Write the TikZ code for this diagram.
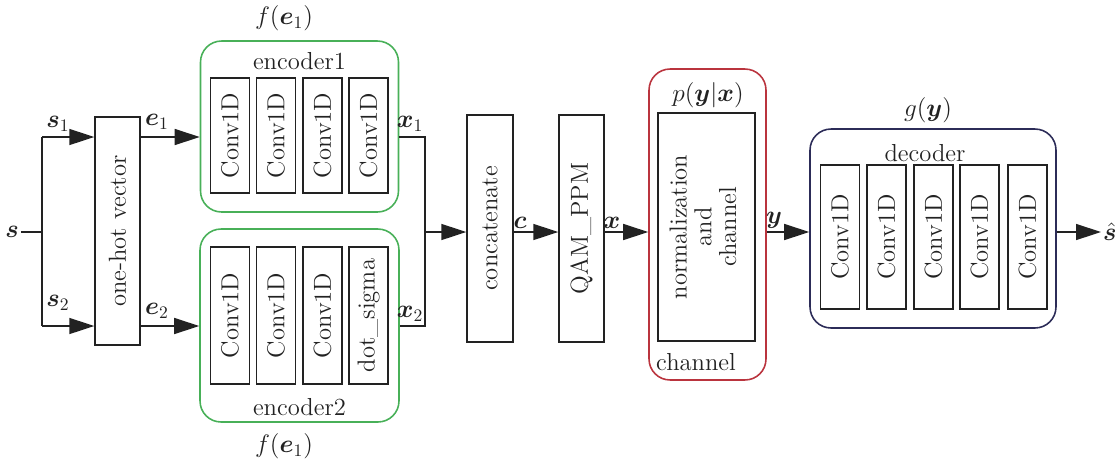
\documentclass[tikz,border=0pt]{standalone}
\usepackage{bm}
\usetikzlibrary{arrows.meta}
\definecolor{encgreen}{RGB}{72,176,88}
\definecolor{chred}{RGB}{186,52,62}
\definecolor{decnavy}{RGB}{44,44,88}
\definecolor{ink}{RGB}{34,34,34}
\tikzset{
  box/.style={draw=ink, line width=0.8pt, inner sep=0pt, text=ink, font=\fontsize{14}{16}\selectfont},
  layer/.style={box, minimum width=0.78cm},
  group/.style={draw, line width=0.9pt, rounded corners=0.42cm, inner sep=0pt},
  lbl/.style={inner sep=1pt, text=ink, font=\fontsize{14}{16}\selectfont},
  arr/.style={line width=0.8pt, -{Triangle[length=0.5cm,width=0.32cm]}},
  wire/.style={draw=ink, line width=0.8pt}
}
\begin{document}
\begin{tikzpicture}[x=0.02cm, y=-0.02cm]
      \useasboundingbox (0,0) rectangle (1116,461);
      % input split
      \node[lbl] (s) at (12,232) {$\bm{s}$};
      \coordinate (split) at (42,232);
      \coordinate (top) at (42,137);
      \coordinate (bot) at (42,326);
      \node[box, minimum width=0.9cm, minimum height=4.56cm] (onehot) at (117.5,231) {\rotatebox{90}{one-hot vector}};
      \node[lbl] (s1) at (58,124) {$\bm{s}_1$};
      \node[lbl] (s2) at (58,303) {$\bm{s}_2$};
      % encoders
      \node[group, draw=encgreen, minimum width=3.96cm, minimum height=3.42cm] (enc1) at (299.5,126.5) {};
      \node[group, draw=encgreen, minimum width=3.98cm, minimum height=3.86cm] (enc2) at (299.5,325.5) {};
      \node[lbl] (enc1name) at (299.5,61) {encoder1};
      \node[lbl] (enc2name) at (299.5,407) {encoder2};
      \node[lbl] (f1) at (284,18) {$f(\bm{e}_1)$};
      \node[lbl] (f2) at (284,446) {$f(\bm{e}_1)$};
      \node[layer, minimum height=2.3cm] (c11) at (230,135.5) {\rotatebox{90}{Conv1D}};
      \node[layer, minimum height=2.3cm] (c12) at (276,135.5) {\rotatebox{90}{Conv1D}};
      \node[layer, minimum height=2.3cm] (c13) at (322.5,135.5) {\rotatebox{90}{Conv1D}};
      \node[layer, minimum height=2.3cm] (c14) at (368.5,135.5) {\rotatebox{90}{Conv1D}};
      \node[layer, minimum height=2.74cm] (c21) at (230,315.5) {\rotatebox{90}{Conv1D}};
      \node[layer, minimum height=2.74cm] (c22) at (276,315.5) {\rotatebox{90}{Conv1D}};
      \node[layer, minimum height=2.74cm] (c23) at (322.5,315.5) {\rotatebox{90}{Conv1D}};
      \node[layer, minimum height=2.74cm] (c24) at (368.5,315.5) {\rotatebox{90}{dot\_sigma}};
      \node[lbl] (e1) at (157,122) {$\bm{e}_1$};
      \node[lbl] (e2) at (157,311) {$\bm{e}_2$};
      \node[lbl] (x1) at (410,124) {$\bm{x}_1$};
      \node[lbl] (x2) at (410,314) {$\bm{x}_2$};
      \coordinate (m1) at (425,137);
      \coordinate (m2) at (425,326);
      \coordinate (join) at (425,232);
      % middle blocks
      \node[box, minimum width=0.92cm, minimum height=4.54cm] (concat) at (490,228.5) {\rotatebox{90}{concatenate}};
      \node[box, minimum width=0.9cm, minimum height=4.54cm] (qam) at (581.5,228.5) {\rotatebox{90}{QAM\_PPM}};
      \node[lbl] (c) at (520,223) {$\bm{c}$};
      \node[lbl] (x) at (612,223) {$\bm{x}$};
      % channel
      \node[group, draw=chred, minimum width=2.34cm, minimum height=6.22cm] (chan) at (707.5,224.5) {};
      \node[box, minimum width=1.94cm, minimum height=4.56cm] (norm) at (706.5,227) {\rotatebox{90}{\renewcommand\arraystretch{0.88}\begin{tabular}{c}normalization\\and\\channel\end{tabular}}};
      \node[lbl] (pyx) at (708,95) {$p(\bm{y}|\bm{x})$};
      \node[lbl] (channame) at (696,362) {channel};
      \node[lbl] (y) at (774,220) {$\bm{y}$};
      % decoder
      \node[group, draw=decnavy, minimum width=4.92cm, minimum height=3.98cm] (dec) at (933,228.5) {};
      \node[lbl] (gy) at (928,110) {$g(\bm{y})$};
      \node[lbl] (decname) at (925,153) {decoder};
      \node[layer, minimum height=2.88cm] (d1) at (840,237) {\rotatebox{90}{Conv1D}};
      \node[layer, minimum height=2.88cm] (d2) at (886.5,237) {\rotatebox{90}{Conv1D}};
      \node[layer, minimum height=2.88cm] (d3) at (933.5,237) {\rotatebox{90}{Conv1D}};
      \node[layer, minimum height=2.88cm] (d4) at (979.5,237) {\rotatebox{90}{Conv1D}};
      \node[layer, minimum height=2.88cm] (d5) at (1027.5,237) {\rotatebox{90}{Conv1D}};
      \node[lbl, anchor=west] (shat) at (1101,232) {$\hat{\bm{s}}$};
      \begin{scope}[wire]
        \draw (s) -- (split);
        \draw (top) -- (bot);
        \draw[arr] (top) -- (top -| onehot.west);
        \draw[arr] (bot) -- (bot -| onehot.west);
        \draw[arr] (top -| onehot.east) -- (top -| enc1.west);
        \draw[arr] (bot -| onehot.east) -- (bot -| enc2.west);
        \draw (m1 -| enc1.east) -- (m1) -- (m2) -- (m2 -| enc2.east);
        \draw[arr] (join) -- (join -| concat.west);
        \draw[arr] (join -| concat.east) -- (join -| qam.west);
        \draw[arr] (join -| qam.east) -- (join -| chan.west);
        \draw[arr] (join -| chan.east) -- (join -| dec.west);
        \draw[arr] (join -| dec.east) -- (shat.west);
      \end{scope}
    \end{tikzpicture}
\end{document}
